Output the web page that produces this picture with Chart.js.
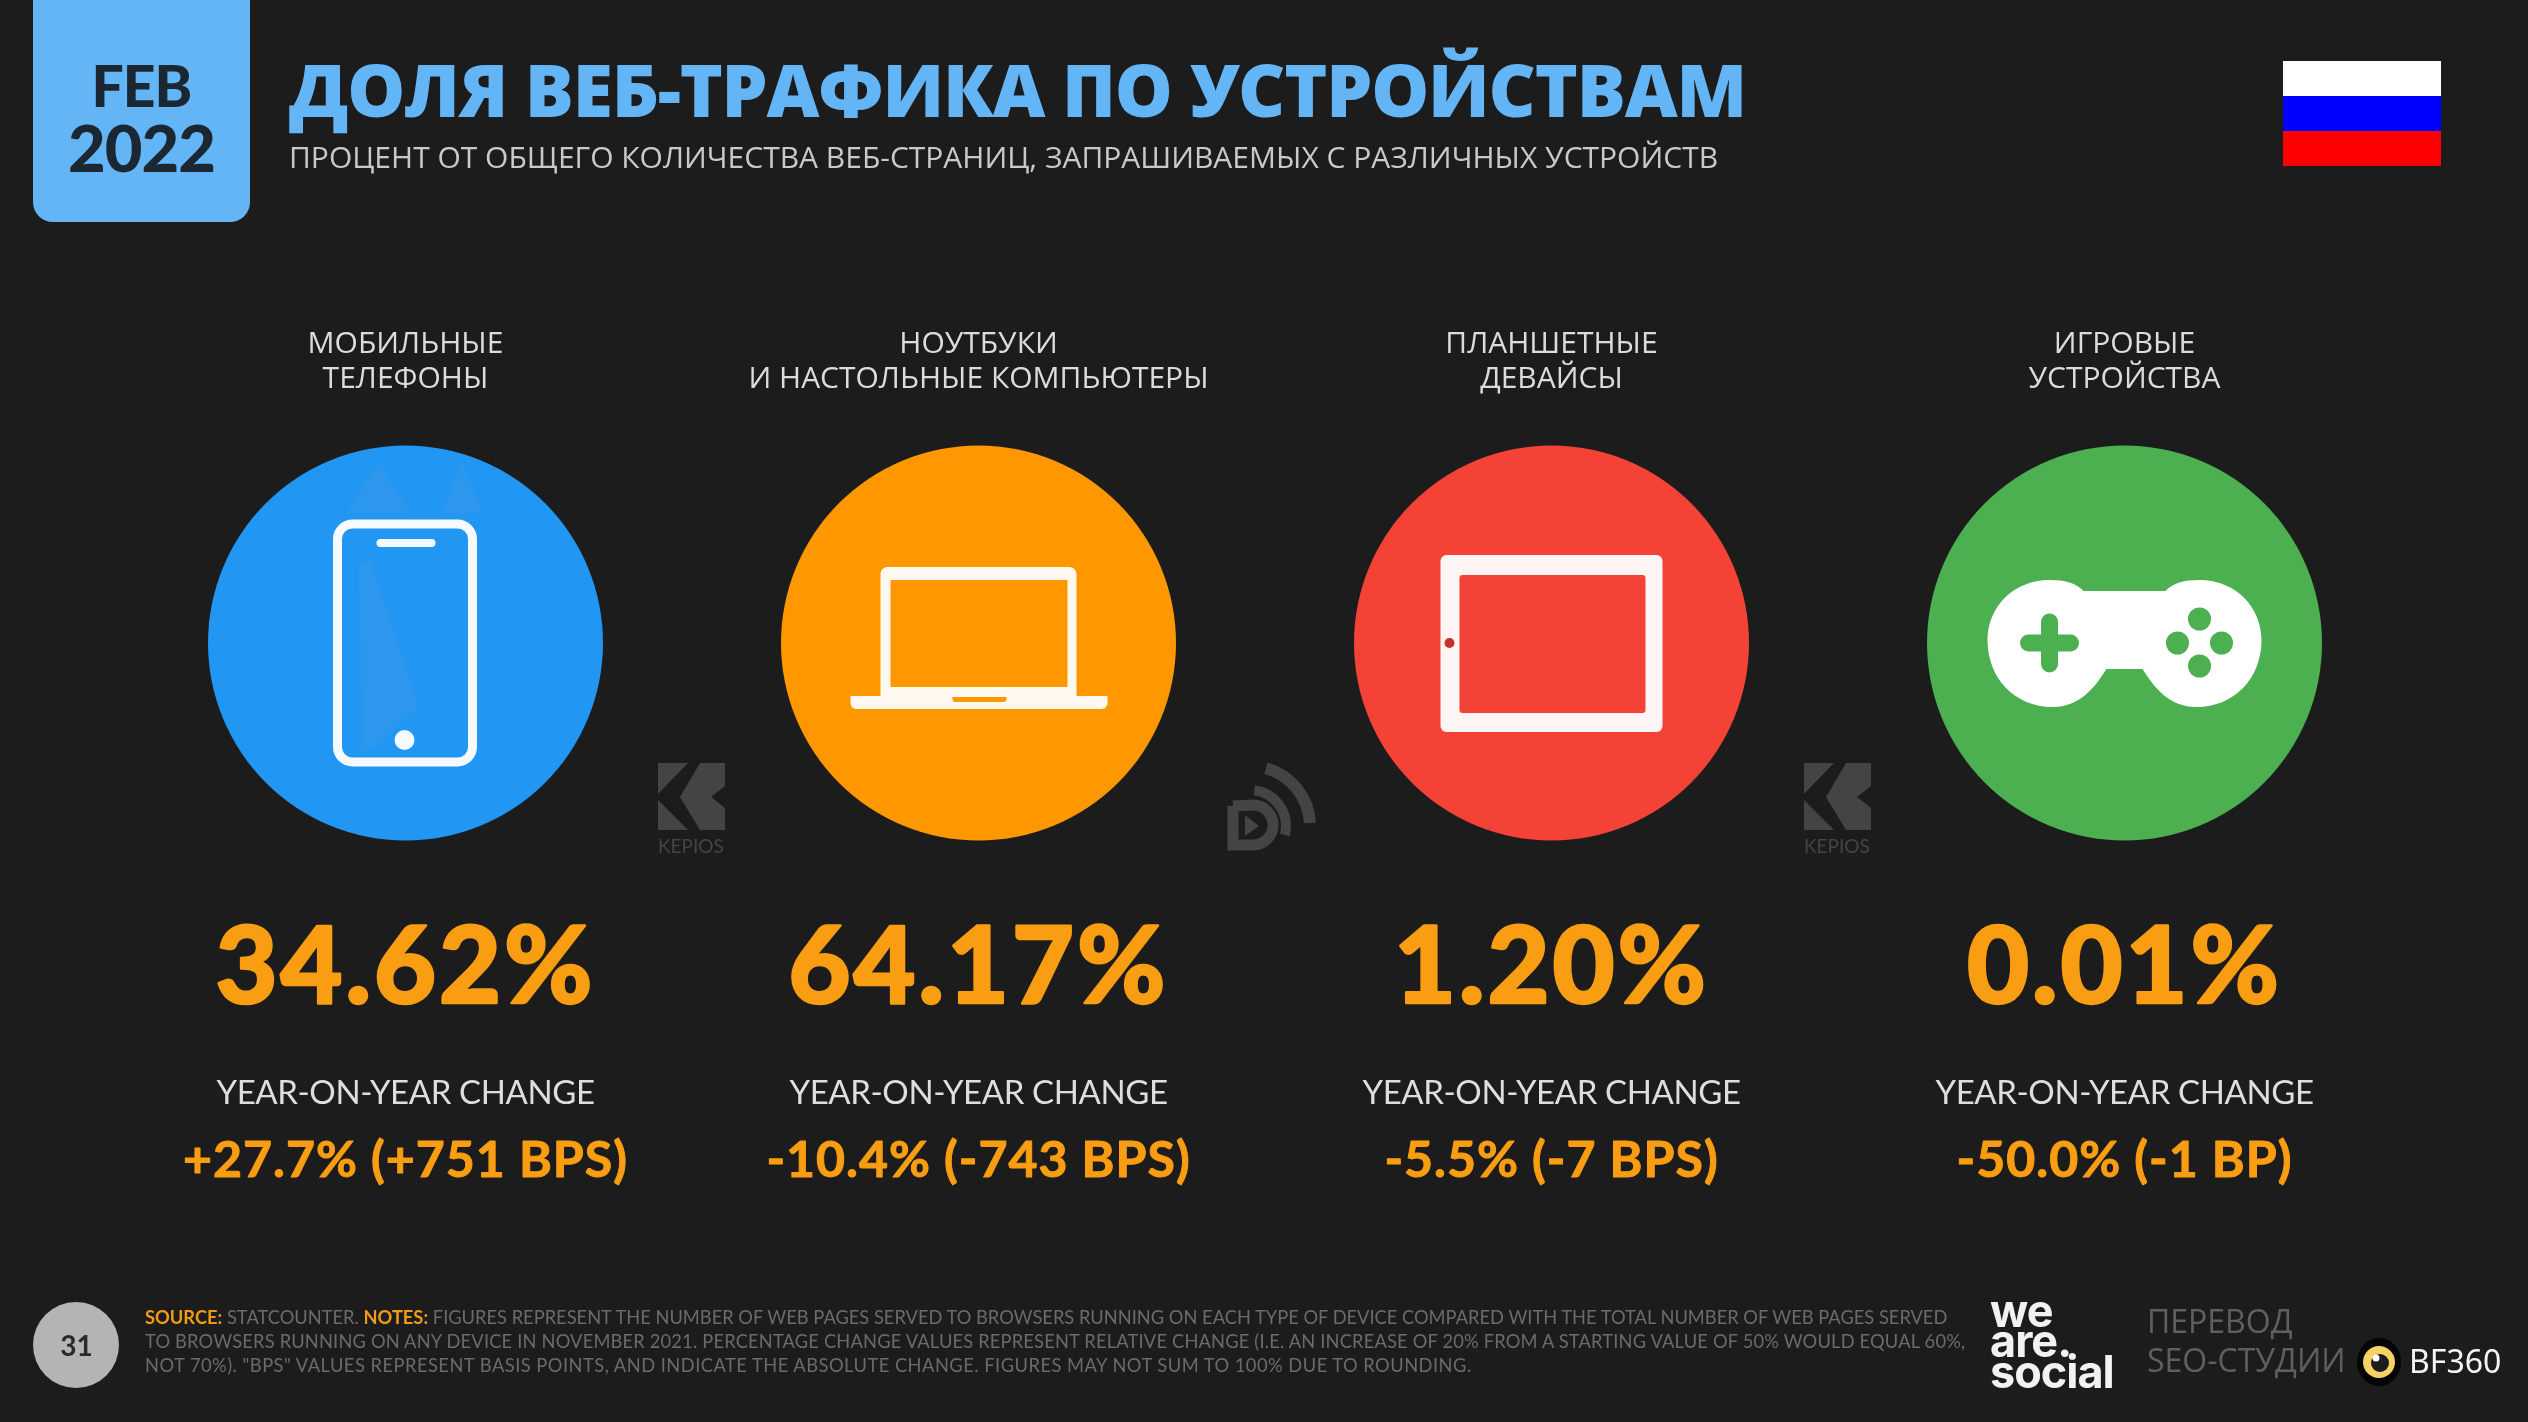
<!DOCTYPE html>
<html>
<head>
<meta charset="utf-8">
<title>Доля веб-трафика по устройствам</title>
<script src="https://cdn.jsdelivr.net/npm/chart.js@4/dist/chart.umd.min.js"></script>
<style>
  html, body { margin: 0; padding: 0; background: #1c1c1c; }
  #page { position: relative; width: 2528px; height: 1422px; overflow: hidden; background: #1c1c1c; }
  #page canvas { position: absolute; left: 0; top: 0; }
  .txt { position: absolute; white-space: nowrap; line-height: 1; font-family: "Open Sans", sans-serif; }
  #feb { left: 33px; width: 217px; top: 57px; text-align: center; color: #1b2733; font: 900 57px/1 Lato, sans-serif; letter-spacing: -1px; }
  #year { left: 33px; width: 217px; top: 115px; text-align: center; color: #1b2733; font: 900 65px/1 Lato, sans-serif; letter-spacing: -1px; }
  #title { left: 289px; top: 52px; color: #64b5f6; font-size: 73px; font-weight: 800; letter-spacing: -1.2px; }
  #subtitle { left: 289px; top: 142px; color: #c9c9c9; font-size: 30px; }
  .note { left: 145px; color: #6b6b6b; font-size: 18.3px; font-family: Lato, sans-serif; filter: blur(0.6px); }
  .note b { color: #f09a16; }
  #pg { left: 34px; width: 85px; top: 1331px; text-align: center; color: #2a2a2a; font: 700 28px/1 Lato, sans-serif; }
  .social { left: 1990px; color: #f2f2f2; font: 700 45px/1 Inter, sans-serif; letter-spacing: -1px; }
  .seo { left: 2147px; color: #5f5f5f; font-size: 32px; }
  #bf { left: 2409px; top: 1345px; color: #f4f4f4; font: 400 32px/1 "Noto Sans", sans-serif; }
  .kep { color: #444; font: 400 19px/1 Lato, sans-serif; }
</style>
</head>
<body>
<div id="page">
  <canvas id="shareChart" width="2528" height="1422"></canvas>
  <div class="txt" id="feb">FEB</div>
  <div class="txt" id="year">2022</div>
  <div class="txt" id="title">ДОЛЯ ВЕБ-ТРАФИКА ПО УСТРОЙСТВАМ</div>
  <div class="txt" id="subtitle">ПРОЦЕНТ ОТ ОБЩЕГО КОЛИЧЕСТВА ВЕБ-СТРАНИЦ, ЗАПРАШИВАЕМЫХ С РАЗЛИЧНЫХ УСТРОЙСТВ</div>
  <div class="txt kep" style="left:658px;top:836px">KEPIOS</div>
  <div class="txt kep" style="left:1804px;top:836px">KEPIOS</div>
  <div class="txt" id="pg">31</div>
  <div class="txt note" style="top:1308px"><b>SOURCE:</b> STATCOUNTER. <b>NOTES:</b> FIGURES REPRESENT THE NUMBER OF WEB PAGES SERVED TO BROWSERS RUNNING ON EACH TYPE OF DEVICE COMPARED WITH THE TOTAL NUMBER OF WEB PAGES SERVED</div>
  <div class="txt note" style="top:1332px;letter-spacing:0.18px">TO BROWSERS RUNNING ON ANY DEVICE IN NOVEMBER 2021. PERCENTAGE CHANGE VALUES REPRESENT RELATIVE CHANGE (I.E. AN INCREASE OF 20% FROM A STARTING VALUE OF 50% WOULD EQUAL 60%,</div>
  <div class="txt note" style="top:1356px;letter-spacing:0.49px">NOT 70%). "BPS" VALUES REPRESENT BASIS POINTS, AND INDICATE THE ABSOLUTE CHANGE. FIGURES MAY NOT SUM TO 100% DUE TO ROUNDING.</div>
  <div class="txt social" style="top:1288px">we</div>
  <div class="txt social" style="top:1318px">are.</div>
  <div class="txt social" style="top:1349px">social</div>
  <div class="txt seo" style="top:1305px">ПЕРЕВОД</div>
  <div class="txt seo" style="top:1344px">SEO-СТУДИИ</div>
  <div class="txt" id="bf">BF360</div>
</div>
<script>
// data
const deviceLabels = [
  ['МОБИЛЬНЫЕ', 'ТЕЛЕФОНЫ'],
  ['НОУТБУКИ', 'И НАСТОЛЬНЫЕ КОМПЬЮТЕРЫ'],
  ['ПЛАНШЕТНЫЕ', 'ДЕВАЙСЫ'],
  ['ИГРОВЫЕ', 'УСТРОЙСТВА']
];
const shareValues = [34.62, 64.17, 1.20, 0.01];
const yoyChange = ['+27.7% (+751 BPS)', '-10.4% (-743 BPS)', '-5.5% (-7 BPS)', '-50.0% (-1 BP)'];
const deviceColors = ['#2196f3', '#ff9800', '#f44336', '#4caf50'];

// big fixed circles: stop chart.js from growing the side padding by their radius
class TileBubble extends Chart.BubbleController {
  getMaxOverflow() { return 0; }
}
TileBubble.id = 'tileBubble';
Chart.register(TileBubble);

function roundRect(ctx, x, y, w, h, r) {
  ctx.beginPath();
  ctx.roundRect(x, y, w, h, r);
}

function fillPoly(ctx, pts) {
  ctx.beginPath();
  pts.forEach((p, i) => (i ? ctx.lineTo(p[0], p[1]) : ctx.moveTo(p[0], p[1])));
  ctx.closePath();
  ctx.fill();
}

// icons, drawn around the centre of each bubble
function drawPhone(ctx, c) {
  ctx.fillStyle = '#2c97ec';
  fillPoly(ctx, [[-59, -130], [-27, -181], [5, -130]]);
  fillPoly(ctx, [[36, -130], [56, -181], [78, -130]]);
  fillPoly(ctx, [[-47, -80], [-34, -80], [14, 64], [-31, 104], [-43, 107]]);
  ctx.strokeStyle = '#f4faff';
  ctx.lineWidth = 9;
  roundRect(ctx, -68, -119, 135, 238, 15);
  ctx.stroke();
  ctx.fillStyle = '#f4faff';
  roundRect(ctx, -29, -104, 59, 8, 4);
  ctx.fill();
  ctx.beginPath();
  ctx.arc(-1, 97, 10, 0, Math.PI * 2);
  ctx.fill();
}

function drawLaptop(ctx, c) {
  ctx.fillStyle = '#fff8ef';
  roundRect(ctx, -98, -76, 196, 135, [7, 7, 0, 0]);
  ctx.fill();
  ctx.fillStyle = c;
  ctx.fillRect(-88, -63, 177, 107);
  ctx.fillStyle = '#fff8ef';
  roundRect(ctx, -128, 53, 257, 13, [0, 0, 6, 6]);
  ctx.fill();
  ctx.fillStyle = c;
  roundRect(ctx, -26, 54, 54, 5, [0, 0, 3, 3]);
  ctx.fill();
}

function drawTablet(ctx, c) {
  ctx.fillStyle = '#fff5f4';
  roundRect(ctx, -111, -88, 222, 177, 6);
  ctx.fill();
  ctx.fillStyle = c;
  roundRect(ctx, -92, -68, 186, 138, 3);
  ctx.fill();
  ctx.fillStyle = '#c9302a';
  ctx.beginPath();
  ctx.arc(-102, 0, 5, 0, Math.PI * 2);
  ctx.fill();
}

function drawPad(ctx, c) {
  ctx.fillStyle = '#ffffff';
  ctx.beginPath();
  ctx.moveTo(-41, -52);
  ctx.bezierCurveTo(-48, -60, -60, -63, -75, -63);
  ctx.bezierCurveTo(-112, -63, -137, -35, -137, -3);
  ctx.bezierCurveTo(-137, 35, -110, 64, -72, 64);
  ctx.bezierCurveTo(-45, 64, -30, 45, -18, 26);
  ctx.lineTo(18, 26);
  ctx.bezierCurveTo(30, 45, 45, 64, 72, 64);
  ctx.bezierCurveTo(110, 64, 137, 35, 137, -3);
  ctx.bezierCurveTo(137, -35, 112, -63, 75, -63);
  ctx.bezierCurveTo(60, -63, 48, -60, 41, -52);
  ctx.closePath();
  ctx.fill();
  ctx.strokeStyle = c;
  ctx.lineWidth = 17;
  ctx.lineCap = 'round';
  ctx.beginPath();
  ctx.moveTo(-96, 0); ctx.lineTo(-54, 0);
  ctx.moveTo(-75, -21); ctx.lineTo(-75, 21);
  ctx.stroke();
  ctx.fillStyle = c;
  [[75, -24], [75, 23], [53, 0], [97, 0]].forEach(b => {
    ctx.beginPath();
    ctx.arc(b[0], b[1], 11.5, 0, Math.PI * 2);
    ctx.fill();
  });
}

const iconDrawers = [drawPhone, drawLaptop, drawTablet, drawPad];

function drawKepios(ctx, x) {
  ctx.fillStyle = '#444444';
  fillPoly(ctx, [[x, 763], [x + 30, 763], [x, 794]]);
  fillPoly(ctx, [[x, 800], [x + 30, 830], [x, 830]]);
  fillPoly(ctx, [[x + 42, 763], [x + 67, 763], [x + 67, 786], [x + 53, 797], [x + 67, 808], [x + 67, 830], [x + 42, 830], [x + 22, 797]]);
}

function drawDataLogo(ctx) {
  ctx.strokeStyle = '#444444';
  ctx.lineWidth = 11;
  ctx.beginPath();
  ctx.moveTo(1233, 806); ctx.lineTo(1233, 845); ctx.lineTo(1253, 845);
  ctx.arc(1253, 825, 20, Math.PI / 2, -Math.PI / 2, true);
  ctx.lineTo(1233, 806);
  ctx.stroke();
  ctx.lineWidth = 10;
  ctx.beginPath();
  ctx.arc(1250, 826, 36, -1.45, 0.25);
  ctx.stroke();
  ctx.lineWidth = 12;
  ctx.beginPath();
  ctx.arc(1250, 826, 60, -1.3, -0.05);
  ctx.stroke();
  ctx.fillStyle = '#444444';
  fillPoly(ctx, [[1245, 815], [1259, 826], [1245, 836]]);
}

// everything around the chart that is not text
const slideFrame = {
  id: 'slideFrame',
  beforeDraw(chart) {
    const ctx = chart.ctx;
    ctx.save();
    ctx.fillStyle = '#1c1c1c';
    ctx.fillRect(0, 0, chart.width, chart.height);
    ctx.fillStyle = '#64b5f6';
    roundRect(ctx, 33, -30, 217, 252, 20);
    ctx.fill();
    ctx.fillStyle = '#ffffff';
    ctx.fillRect(2283, 61, 158, 35);
    ctx.fillStyle = '#0000ff';
    ctx.fillRect(2283, 96, 158, 35);
    ctx.fillStyle = '#ff0000';
    ctx.fillRect(2283, 131, 158, 35);
    drawKepios(ctx, 658);
    drawKepios(ctx, 1804);
    drawDataLogo(ctx);
    ctx.fillStyle = '#b4b4b4';
    ctx.beginPath();
    ctx.arc(76, 1345, 43, 0, Math.PI * 2);
    ctx.fill();
    ctx.fillStyle = '#050505';
    ctx.beginPath();
    ctx.ellipse(2379, 1362, 22, 24, 0, 0, Math.PI * 2);
    ctx.fill();
    ctx.fillStyle = '#f6d264';
    ctx.beginPath();
    ctx.arc(2379, 1362, 16, 0, Math.PI * 2);
    ctx.fill();
    ctx.fillStyle = '#1c1c1c';
    ctx.beginPath();
    ctx.arc(2380, 1363, 9, 0, Math.PI * 2);
    ctx.fill();
    ctx.fillStyle = '#ffffff';
    ctx.beginPath();
    ctx.arc(2376, 1358, 3.5, 0, Math.PI * 2);
    ctx.fill();
    ctx.restore();
  }
};

// icons and the value texts under each bubble
const deviceMarks = {
  id: 'deviceMarks',
  afterDatasetsDraw(chart) {
    const ctx = chart.ctx;
    chart.getDatasetMeta(0).data.forEach((el, i) => {
      ctx.save();
      ctx.translate(el.x, el.y);
      iconDrawers[i](ctx, deviceColors[i]);
      ctx.restore();

      ctx.save();
      ctx.textAlign = 'center';
      ctx.textBaseline = 'alphabetic';
      ctx.lineJoin = 'round';
      ctx.fillStyle = '#f99d12';
      ctx.strokeStyle = '#f99d12';
      ctx.lineWidth = 2.5;
      ctx.letterSpacing = '3px';
      ctx.font = '900 107px Lato, sans-serif';
      const share = shareValues[i].toFixed(2) + '%';
      ctx.fillText(share, el.x, el.y + 360);
      ctx.strokeText(share, el.x, el.y + 360);
      ctx.lineWidth = 1;
      ctx.letterSpacing = '1px';
      ctx.font = '700 50px Lato, sans-serif';
      ctx.fillText(yoyChange[i], el.x, el.y + 534);
      ctx.strokeText(yoyChange[i], el.x, el.y + 534);
      ctx.fillStyle = '#dedede';
      ctx.letterSpacing = '-0.4px';
      ctx.font = '400 33px Lato, sans-serif';
      ctx.fillText('YEAR-ON-YEAR CHANGE', el.x, el.y + 461);
      ctx.restore();
    });
  }
};

new Chart(document.getElementById('shareChart').getContext('2d'), {
  type: 'tileBubble',
  data: {
    labels: deviceLabels,
    datasets: [{
      data: shareValues.map((v, i) => ({ x: i, y: 0, share: v })),
      backgroundColor: deviceColors,
      borderWidth: 0,
      radius: 197.5,
      hoverRadius: 0,
      clip: false
    }]
  },
  options: {
    responsive: false,
    animation: false,
    events: [],
    layout: { padding: { left: 119, right: 117, top: 300, bottom: 556 } },
    plugins: { legend: { display: false }, tooltip: { enabled: false } },
    scales: {
      x: {
        type: 'category',
        position: 'top',
        offset: true,
        grid: { display: false, drawTicks: false },
        border: { display: false },
        afterFit(scale) { scale.height = 120; },
        ticks: {
          color: '#dcdcdc',
          maxRotation: 0,
          autoSkip: false,
          padding: 23,
          font: { family: '"Open Sans", sans-serif', size: 30, lineHeight: 1.17 }
        }
      },
      y: { display: false, min: -1, max: 1 }
    }
  },
  plugins: [slideFrame, deviceMarks]
});
</script>
</body>
</html>
